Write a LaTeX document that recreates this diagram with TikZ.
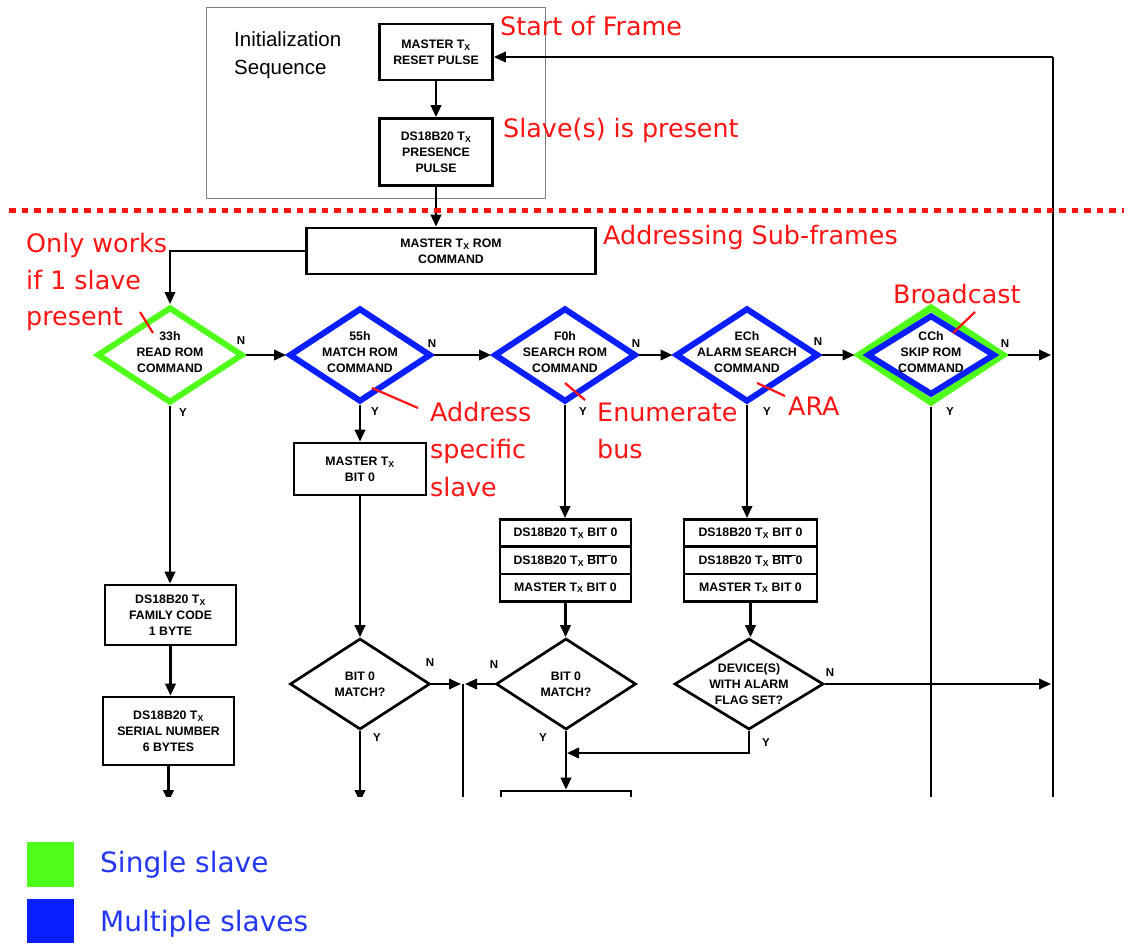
\documentclass[tikz,border=0pt]{standalone}
\usepackage{fontspec}
\setmainfont{Liberation Sans}
\newfontfamily\annfont{DejaVu Sans}
\usetikzlibrary{shapes.geometric,arrows.meta}
\definecolor{slgreen}{RGB}{80,255,25}
\definecolor{slblue}{RGB}{10,30,255}
\definecolor{annred}{RGB}{255,20,20}
\definecolor{legblue}{RGB}{35,55,245}
\definecolor{framegray}{RGB}{125,125,125}
\newcommand{\Tx}{T\textsubscript{X}}
\newcommand{\nbit}{$\overline{\hbox{BIT\ }}$0}
\begin{document}
\begin{tikzpicture}[x=1pt,y=-1pt,
  box/.style={draw,line width=2.7pt,inner sep=0pt,align=center,
     font=\fontsize{12.3}{15.8}\selectfont\bfseries},
  row/.style={box,minimum height=27.3pt,font=\fontsize{12.3}{13}\selectfont\bfseries},
  dia/.style={diamond,draw,line width=2.7pt,inner sep=0pt},
  cdia/.style={dia,line width=6pt,miter limit=10},
  dtxt/.style={align=center,inner sep=0pt,font=\fontsize{12.3}{15.8}\selectfont\bfseries},
  yn/.style={inner sep=0pt,font=\fontsize{11.5}{11.5}\selectfont\bfseries},
  arr/.style={line width=2.2pt,-{Triangle[length=12pt,width=10.5pt]}},
  ln/.style={line width=2.2pt},
  ann/.style={text=annred,anchor=base west,inner sep=0pt,font=\annfont\fontsize{25.4}{30}\selectfont},
  tick/.style={draw=annred,line width=2.2pt},
  leg/.style={text=legblue,anchor=base west,inner sep=0pt,font=\annfont\fontsize{28}{30}\selectfont}
]
\useasboundingbox (0,0) rectangle (1124,945);
\fill[white] (0,0) rectangle (1124,945);

\begin{scope}
\clip (0,0) rectangle (1124,796);
% initialization frame
\node[draw=framegray,line width=1pt,minimum width=339pt,minimum height=191pt,anchor=north west,inner sep=0pt] (init) at (206,7) {};
\node[anchor=north west,inner sep=0pt,align=left,font=\fontsize{20.5}{28}\selectfont] (inittxt) at (234,31) {Initialization\\Sequence};

\node[box,minimum width=113pt,minimum height=56pt] (reset) at (436,52) {MASTER \Tx\\RESET PULSE};
\node[box,minimum width=113pt,minimum height=67pt] (pres) at (436,152) {DS18B20 \Tx\\PRESENCE\\PULSE};
\node[box,minimum width=289pt,minimum height=46pt] (rom) at (451,251) {MASTER \Tx{} ROM\\COMMAND};

% ROM command diamonds
\node[cdia,draw=slgreen,minimum width=146pt,minimum height=96pt] (d1) at (170,355) {};
\node[dtxt] (t1) at ([yshift=3pt]d1.center) {33h\\READ ROM\\COMMAND};
\node[cdia,draw=slblue,minimum width=142pt,minimum height=94pt] (d2) at (360,355) {};
\node[dtxt] (t2) at ([yshift=3pt]d2.center) {55h\\MATCH ROM\\COMMAND};
\node[cdia,draw=slblue,minimum width=142pt,minimum height=94pt] (d3) at (565,355) {};
\node[dtxt] (t3) at ([yshift=3pt]d3.center) {F0h\\SEARCH ROM\\COMMAND};
\node[cdia,draw=slblue,minimum width=143pt,minimum height=94pt] (d4) at (747,355) {};
\node[dtxt] (t4) at ([yshift=3pt]d4.center) {ECh\\ALARM SEARCH\\COMMAND};
\node[cdia,draw=slgreen,line width=7pt,minimum width=146pt,minimum height=97pt] (d5) at (931,355) {};
\node[cdia,draw=slblue,minimum width=128pt,minimum height=80pt] (d5b) at (931,355) {};
\node[dtxt] (t5) at ([yshift=3pt]d5.center) {CCh\\SKIP ROM\\COMMAND};

% read rom branch
\node[box,minimum width=131pt,minimum height=60pt] (fam) at (170.5,615) {DS18B20 \Tx\\FAMILY CODE\\1 BYTE};
\node[box,minimum width=131pt,minimum height=68pt] (ser) at (168.5,731) {DS18B20 \Tx\\SERIAL NUMBER\\6 BYTES};

% match rom branch
\node[box,minimum width=132pt,minimum height=52pt] (mb0) at (360,469) {MASTER \Tx\\BIT 0};
\node[dia,minimum width=140pt,minimum height=91pt] (d6) at (360,684) {};
\node[dtxt] (t6) at (d6.center) {BIT 0\\MATCH?};

% search rom branch
\node[row,minimum width=131pt] (s1) at (565.5,533) {DS18B20 \Tx{} BIT 0};
\node[row,minimum width=131pt] (s2) at (565.5,560.3) {DS18B20 \Tx{} \nbit};
\node[row,minimum width=131pt] (s3) at (565.5,587.6) {MASTER \Tx{} BIT 0};
\node[dia,minimum width=140pt,minimum height=91pt] (d7) at (566,684) {};
\node[dtxt] (t7) at (d7.center) {BIT 0\\MATCH?};
\node[box,minimum width=130pt,minimum height=48pt] (nextbox) at (566,815) {};

% alarm search branch
\node[row,minimum width=133pt] (a1) at (750.5,533) {DS18B20 \Tx{} BIT 0};
\node[row,minimum width=133pt] (a2) at (750.5,560.3) {DS18B20 \Tx{} \nbit};
\node[row,minimum width=133pt] (a3) at (750.5,587.6) {MASTER \Tx{} BIT 0};
\node[dia,minimum width=149pt,minimum height=91pt] (d8) at (749,684) {};
\node[dtxt] (t8) at (d8.center) {DEVICE(S)\\WITH ALARM\\FLAG SET?};

% coordinates
\coordinate (looptop) at (1053,57);
\coordinate (loopbot) at (1053,800);
\coordinate (r5) at (1051,355);
\coordinate (r8) at (1051,684);
\coordinate (jL) at (461,684);
\coordinate (jR) at (465,684);
\coordinate (jtop) at (463,684);
\coordinate (jbot) at (463,800);
\coordinate (j2) at (567,753);
\coordinate (cut) at (0,802);

% connectors
\draw[ln] (loopbot) -- (looptop);
\draw[arr] (looptop) -- (reset.east |- looptop);
\draw[arr] (reset.south) -- (pres.north);
\draw[arr] (pres.south) -- (pres.south |- rom.north);
\draw[arr] (rom.west) -| (d1.north);
\draw[arr] (d1.east) -- (d2.west);
\draw[arr] (d2.east) -- (d3.west);
\draw[arr] (d3.east) -- (d4.west);
\draw[arr] (d4.east) -- (d5.west);
\draw[arr] (d5.east) -- (r5);
\draw[arr] (d1.south) -- (d1.south |- fam.north);
\draw[arr] (fam.south) -- (fam.south |- ser.north);
\draw[arr] (ser.south) -- (ser.south |- cut);
\draw[arr] (d2.south) -- (mb0.north);
\draw[arr] (mb0.south) -- (d6.north);
\draw[arr] (d6.south) -- (d6.south |- cut);
\draw[arr] (d6.east) -- (jL);
\draw[arr] (d7.west) -- (jR);
\draw[ln] (jtop) -- (jbot);
\draw[arr] (d3.south) -- (d3.south |- s1.north);
\draw[arr] (s3.south) -- (s3.south |- d7.north);
\draw[arr] (d7.south) -- (d7.south |- nextbox.north);
\draw[arr] (d4.south) -- (d4.south |- a1.north);
\draw[arr] (a3.south) -- (a3.south |- d8.north);
\draw[arr] (d8.east) -- (r8);
\draw[arr] (d8.south) |- (j2);
\draw[ln] (d5.south) -- (d5.south |- cut);

% Y / N labels
\node[yn] (n1) at (241,341) {N};
\node[yn] (y1) at (183,413) {Y};
\node[yn] (n2) at (432,344) {N};
\node[yn] (y2) at (375,412) {Y};
\node[yn] (n3) at (636,344) {N};
\node[yn] (y3) at (583,412) {Y};
\node[yn] (n4) at (818,342) {N};
\node[yn] (y4) at (767,412) {Y};
\node[yn] (n5) at (1005,344) {N};
\node[yn] (y5) at (950,412) {Y};
\node[yn] (n6) at (430,663) {N};
\node[yn] (y6) at (377,738) {Y};
\node[yn] (n7) at (494,665) {N};
\node[yn] (y7) at (543,738) {Y};
\node[yn] (n8) at (830,673) {N};
\node[yn] (y8) at (766,743) {Y};

% red dotted separator
\draw[annred,line width=5pt,dash pattern=on 6.5pt off 6pt] (9,210) -- (1124,210);
\end{scope}

% annotations
\node[ann] (a_sof) at (500,35) {Start of Frame};
\node[ann] (a_sp) at (503,137) {Slave(s) is present};
\node[ann] (a_asf) at (603,244) {Addressing Sub-frames};
\node[ann] (a_ow1) at (26,252) {Only works};
\node[ann] (a_ow2) at (26,289) {if 1 slave};
\node[ann] (a_ow3) at (26,325) {present};
\node[ann] (a_ad1) at (430,421) {Address};
\node[ann] (a_ad2) at (430,458) {specific};
\node[ann] (a_ad3) at (430,496) {slave};
\node[ann] (a_en1) at (597,421) {Enumerate};
\node[ann] (a_en2) at (597,458) {bus};
\node[ann] (a_ara) at (788,415) {ARA};
\node[ann] (a_bc) at (893,303) {Broadcast};
\draw[tick] (140,312) -- (153,333);
\draw[tick] (372,388) -- (418,408);
\draw[tick] (565,383) -- (585,400);
\draw[tick] (757,383) -- (785,396);
\draw[tick] (975,312) -- (953,333);

% legend
\node[fill=slgreen,minimum width=47pt,minimum height=45pt,inner sep=0pt,anchor=north west] (legG) at (27,842) {};
\node[fill=slblue,minimum width=47pt,minimum height=44pt,inner sep=0pt,anchor=north west] (legB) at (27,899) {};
\node[leg] (legGt) at (100,872) {Single slave};
\node[leg] (legBt) at (100,931) {Multiple slaves};
\end{tikzpicture}
\end{document}
